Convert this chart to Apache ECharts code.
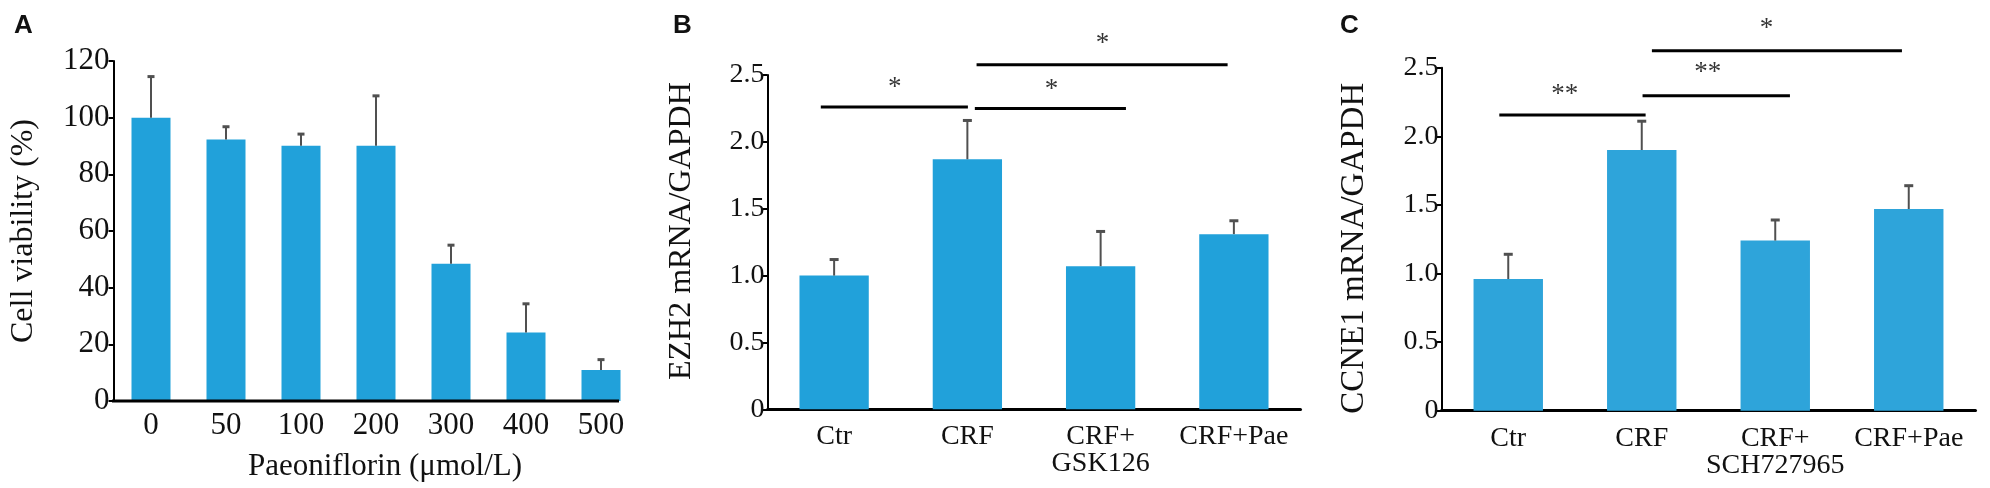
<!DOCTYPE html>
<html>
<head>
<meta charset="utf-8">
<script src="https://cdn.jsdelivr.net/npm/echarts@6/dist/echarts.min.js"></script>
<style>
html,body{margin:0;padding:0;background:#fff}
#main{width:1990px;height:488px}
</style>
</head>
<body>
<div id="main"></div>
<script>
// panel A - cell viability
var catsA = ['0', '50', '100', '200', '300', '400', '500'];
var valsA = [100, 92.3, 90.1, 90.1, 48.4, 24.2, 10.9];
var errA = [14.5, 4.5, 4.1, 17.6, 6.6, 10.1, 3.7];
// panel B - EZH2
var catsB = ['Ctr', 'CRF', 'CRF+\nGSK126', 'CRF+Pae'];
var valsB = [1.0, 1.87, 1.07, 1.31];
var errB = [0.12, 0.29, 0.26, 0.10];
// brackets: [from, to, height] on a 0..4 scale across the categories
var bracketsB = [[0.40, 1.504, 2.26], [1.556, 2.69, 2.25], [1.569, 3.453, 2.577]];
var starsB = [[0.955, 2.40, '*'], [2.131, 2.39, '*'], [2.515, 2.73, '*']];
// panel C - CCNE1
var catsC = ['Ctr', 'CRF', 'CRF+\nSCH727965', 'CRF+Pae'];
var valsC = [0.96, 1.90, 1.24, 1.47];
var errC = [0.18, 0.21, 0.15, 0.17];
var bracketsC = [[0.433, 1.529, 2.155], [1.506, 2.61, 2.296], [1.576, 3.449, 2.624]];
var starsC = [[0.924, 2.30, '**'], [1.995, 2.46, '**'], [2.434, 2.78, '*']];

var serif = 'Liberation Serif';
var chart = echarts.init(document.getElementById('main'));

function errSeries(vals, errs, gi, cap) {
    return {
        type: 'custom',
        xAxisIndex: gi, yAxisIndex: gi,
        z: 5,
        data: vals.map(function (v, i) { return [i, v, errs[i]]; }),
        renderItem: function (params, api) {
            var p0 = api.coord([api.value(0), api.value(1)]);
            var p1 = api.coord([api.value(0), api.value(1) + api.value(2)]);
            return {
                type: 'group',
                children: [
                    {type: 'line', shape: {x1: p0[0], y1: p0[1], x2: p1[0], y2: p1[1]}, style: {stroke: '#505050', lineWidth: 2}},
                    {type: 'line', shape: {x1: p1[0] - cap, y1: p1[1], x2: p1[0] + cap, y2: p1[1]}, style: {stroke: '#505050', lineWidth: 3}}
                ]
            };
        }
    };
}

function bracketSeries(list, xi, yi) {
    var out = [];
    list.forEach(function (b) {
        out.push({
            type: 'line', xAxisIndex: xi, yAxisIndex: yi, clip: false, silent: true,
            symbol: 'none', lineStyle: {color: '#000', width: 3},
            data: [[b[0], b[2]], [b[1], b[2]]]
        });
    });
    return out;
}

function starSeries(list, xi, yi) {
    return {
        type: 'scatter', xAxisIndex: xi, yAxisIndex: yi, clip: false, silent: true,
        symbolSize: 1, itemStyle: {color: 'rgba(0,0,0,0)'},
        data: list.map(function (s) { return {value: [s[0], s[1]], name: s[2]}; }),
        label: {show: true, position: 'inside', formatter: '{b}', color: '#000', fontFamily: serif, fontSize: 27}
    };
}

function yFmt(v) { return v === 0 ? '0' : v.toFixed(1); }

var catAxisBase = {
    type: 'category',
    axisTick: {show: false},
    axisLine: {lineStyle: {color: '#000', width: 3}},
    axisLabel: {color: '#111', fontFamily: serif}
};
var valAxisBase = {
    type: 'value', min: 0,
    splitLine: {show: false},
    axisLine: {show: true, lineStyle: {color: '#000', width: 2}},
    axisTick: {show: true, length: 5, lineStyle: {color: '#000', width: 2}},
    nameLocation: 'middle',
    nameTextStyle: {color: '#111', fontFamily: serif}
};
var letterStyle = {fontFamily: 'Liberation Sans', fontWeight: 'bold', fontSize: 26, color: '#111'};

var option = {
    backgroundColor: '#fff',
    animation: false,
    title: [
        {text: 'A', left: 9, top: 8, textStyle: letterStyle},
        {text: 'B', left: 668, top: 8, textStyle: letterStyle},
        {text: 'C', left: 1335, top: 8, textStyle: letterStyle}
    ],
    grid: [
        {left: 113.5, top: 61, width: 525, height: 340},
        {left: 767.5, top: 75, width: 533, height: 334.3},
        {left: 1441.5, top: 67.7, width: 534, height: 343}
    ],
    xAxis: [
        Object.assign({}, catAxisBase, {gridIndex: 0, data: catsA,
            axisLine: {show: false},
            axisLabel: {color: '#111', fontFamily: serif, fontSize: 31, margin: 9, interval: 0},
            name: 'Paeoniflorin (μmol/L)', nameLocation: 'middle', nameGap: 50,
            nameTextStyle: {color: '#111', fontFamily: serif, fontSize: 31, padding: [0, 0, 0, 18]}}),
        Object.assign({}, catAxisBase, {gridIndex: 1, data: catsB,
            axisLabel: {color: '#111', fontFamily: serif, fontSize: 28, margin: 14, lineHeight: 27, interval: 0}}),
        Object.assign({}, catAxisBase, {gridIndex: 2, data: catsC,
            axisLabel: {color: '#111', fontFamily: serif, fontSize: 28, margin: 14, lineHeight: 27, interval: 0}}),
        {type: 'value', gridIndex: 1, min: 0, max: 4, show: false},
        {type: 'value', gridIndex: 2, min: 0, max: 4, show: false}
    ],
    yAxis: [
        Object.assign({}, valAxisBase, {gridIndex: 0, max: 120, interval: 20,
            axisLabel: {color: '#111', fontFamily: serif, fontSize: 31, margin: 4},
            name: 'Cell viability (%)', nameGap: 74,
            nameTextStyle: {color: '#111', fontFamily: serif, fontSize: 32}}),
        Object.assign({}, valAxisBase, {gridIndex: 1, max: 2.5, interval: 0.5,
            axisLabel: {color: '#111', fontFamily: serif, fontSize: 28, margin: 3, formatter: yFmt},
            name: 'EZH2 mRNA/GAPDH', nameGap: 70,
            nameTextStyle: {color: '#111', fontFamily: serif, fontSize: 32, padding: [0, 0, 0, 22]}}),
        Object.assign({}, valAxisBase, {gridIndex: 2, max: 2.5, interval: 0.5,
            axisLabel: {color: '#111', fontFamily: serif, fontSize: 28, margin: 3, formatter: yFmt},
            name: 'CCNE1 mRNA/GAPDH', nameGap: 71,
            nameTextStyle: {color: '#111', fontFamily: serif, fontSize: 33, padding: [0, 18, 0, 0]}})
    ],
    graphic: [
        // x axis line of panel A ends at the last bar
        {type: 'line', shape: {x1: 112, y1: 401, x2: 619, y2: 401}, style: {stroke: '#000', lineWidth: 3}, z: 10}
    ],
    series: [
        {type: 'bar', xAxisIndex: 0, yAxisIndex: 0, data: valsA, barWidth: '52%', itemStyle: {color: '#21a1da'}},
        errSeries(valsA, errA, 0, 3.5),
        {type: 'bar', xAxisIndex: 1, yAxisIndex: 1, data: valsB, barWidth: '52%', itemStyle: {color: '#21a1da'}},
        errSeries(valsB, errB, 1, 4.5),
        {type: 'bar', xAxisIndex: 2, yAxisIndex: 2, data: valsC, barWidth: '52%', itemStyle: {color: '#2ea4da'}},
        errSeries(valsC, errC, 2, 4.5)
    ].concat(bracketSeries(bracketsB, 3, 1))
     .concat(bracketSeries(bracketsC, 4, 2))
     .concat([starSeries(starsB, 3, 1), starSeries(starsC, 4, 2)])
};
chart.setOption(option);
</script>
</body>
</html>
